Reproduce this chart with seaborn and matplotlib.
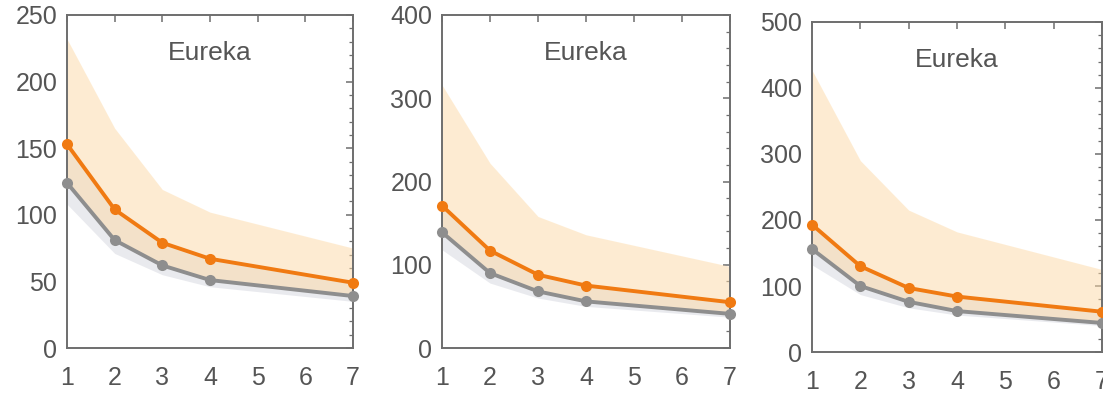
import numpy as np
import pandas as pd
import matplotlib
matplotlib.use("Agg")
import matplotlib.pyplot as plt
import seaborn as sns
from matplotlib.ticker import MultipleLocator

sns.set_style("white")
plt.rcParams['font.family'] = ['Liberation Sans', 'DejaVu Sans']

# ---- data ----
x_vals = [1, 2, 3, 4, 7]
panel_title = "Eureka"

orange_mean_1 = [153, 104, 79, 67, 49]
orange_hi_1 = [232, 165, 119, 102, 75]
gray_mean_1 = [124, 81, 62, 51, 39]
gray_lo_1 = [108, 71, 55, 46, 35]

orange_mean_2 = [171, 117, 88, 75, 55]
orange_hi_2 = [316, 222, 158, 136, 98]
gray_mean_2 = [139, 90, 68, 56, 41]
gray_lo_2 = [118, 78, 60, 50, 37]

orange_mean_3 = [193, 130, 97, 84, 61]
orange_hi_3 = [427, 290, 215, 182, 125]
gray_mean_3 = [156, 100, 76, 62, 44]
gray_lo_3 = [132, 87, 67, 56, 40]

y_max = [250, 400, 500]
y_major = [50, 100, 100]
y_minor = [10, 20, 20]

panels = [
    (orange_mean_1, orange_hi_1, gray_mean_1, gray_lo_1),
    (orange_mean_2, orange_hi_2, gray_mean_2, gray_lo_2),
    (orange_mean_3, orange_hi_3, gray_mean_3, gray_lo_3),
]

ORANGE = "#f07a12"
GRAY = "#8e8e8e"
BAND_O = "#fdd9a6"
BAND_G = "#c9cbd6"
TXT = "#555555"
SPINE = "#6e6e6e"

W, H = 1103, 396
fig = plt.figure(figsize=(W / 100, H / 100), dpi=100)

boxes = [
    (67, 15, 353, 348),
    (442, 15, 730, 348),
    (812, 22, 1102, 352),
]

for i, (box, (om, oh, gm, gl)) in enumerate(zip(boxes, panels)):
    l, t, r, b = box
    ax = fig.add_axes([l / W, 1 - b / H, (r - l) / W, (b - t) / H])
    # bands
    ax.fill_between(x_vals, gl, om, color=BAND_G, alpha=0.4, lw=0, zorder=1)
    ax.fill_between(x_vals, gm, oh, color=BAND_O, alpha=0.5, lw=0, zorder=1.5)
    df = pd.DataFrame({"x": x_vals * 2,
                       "y": list(om) + list(gm),
                       "s": ["o"] * len(x_vals) + ["g"] * len(x_vals)})
    sns.lineplot(data=df, x="x", y="y", hue="s", palette={"o": ORANGE, "g": GRAY},
                 marker="o", markersize=8, markeredgewidth=0, linewidth=2.8,
                 legend=False, ax=ax, zorder=3)
    for ln in ax.lines:
        ln.set_clip_on(False)
    ax.set_xlim(1, 7)
    ax.set_ylim(0, y_max[i])
    ax.set_xticks(range(1, 8))
    ax.yaxis.set_major_locator(MultipleLocator(y_major[i]))
    ax.yaxis.set_minor_locator(MultipleLocator(y_minor[i]))
    ax.set_xlabel("")
    ax.set_ylabel("")
    ax.tick_params(axis="both", which="both", direction="in", top=True, right=True,
                   color=SPINE, labelcolor=TXT, labelsize=18)
    ax.tick_params(axis="both", which="major", length=5, width=1.1)
    ax.tick_params(axis="y", which="minor", length=3, width=0.9)
    ax.tick_params(axis="x", which="major", pad=13)
    ax.tick_params(axis="y", which="major", pad=7)
    for sp in ax.spines.values():
        sp.set_visible(True)
        sp.set_color(SPINE)
        sp.set_linewidth(1.4)
    ax.text(0.5, 0.885, panel_title, transform=ax.transAxes, ha="center", va="center",
            fontsize=19, color=TXT)

fig.savefig("out.png", dpi=100)
